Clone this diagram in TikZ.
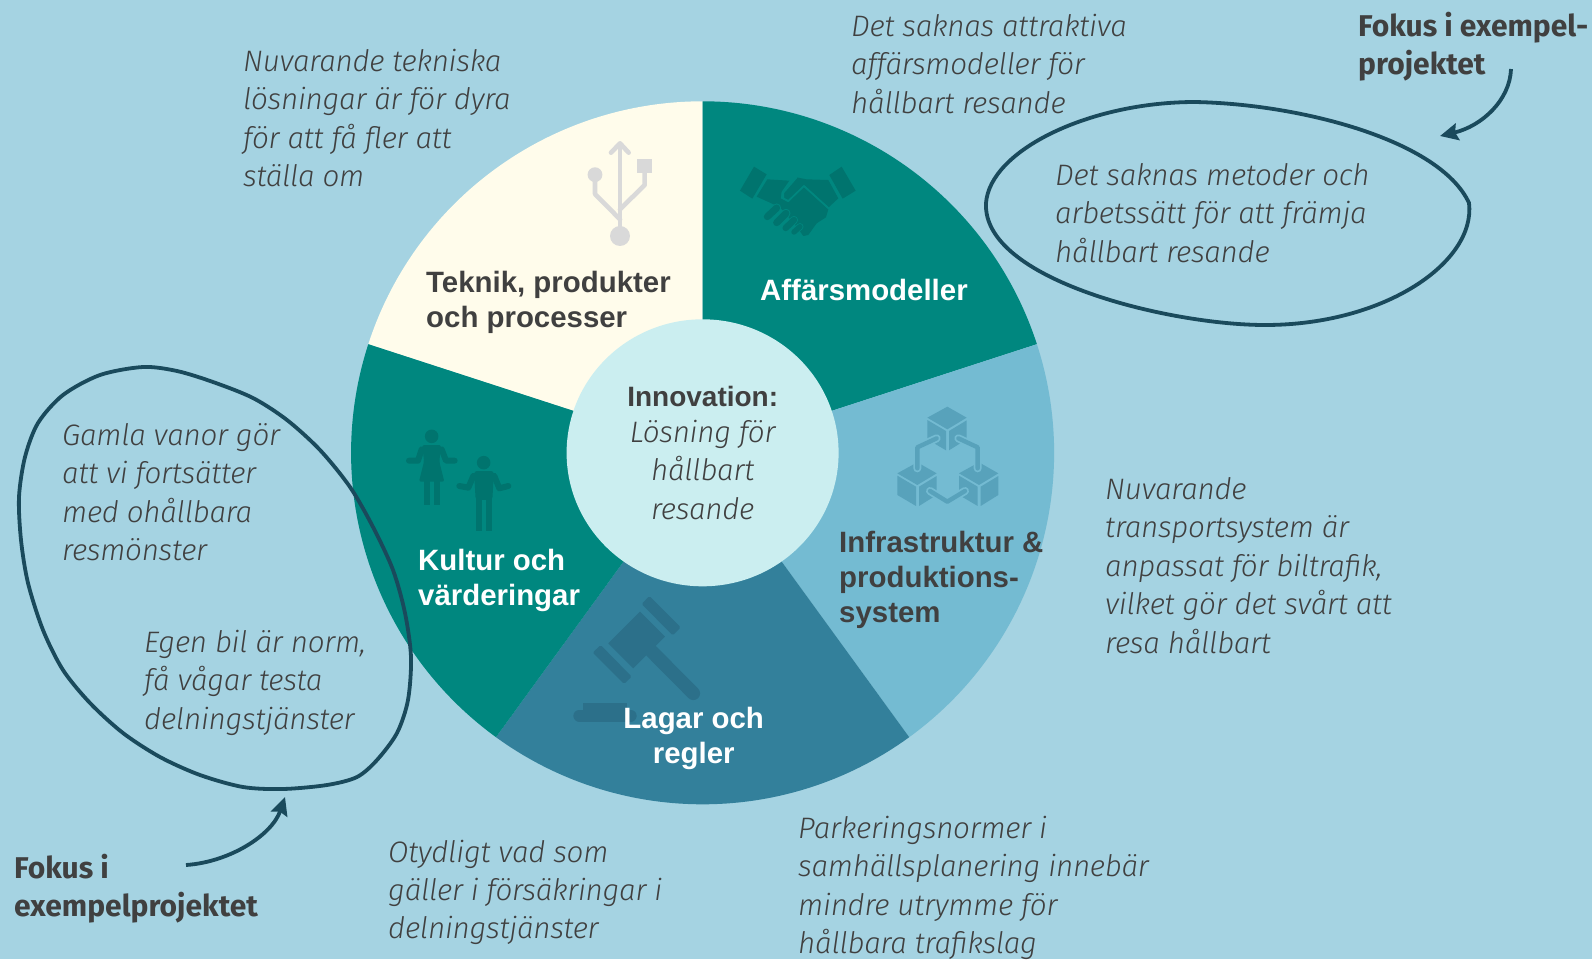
\documentclass[tikz,border=0pt]{standalone}
\usepackage{fontspec}
\setmainfont{Fira Sans}
\newfontfamily\notef{Fira Sans Light}[LetterSpace=-0.9]
\newfontfamily\lab{Liberation Sans}
\usetikzlibrary{arrows.meta}
\definecolor{bgc}{HTML}{A5D3E2}
\definecolor{teal1}{HTML}{00877F}
\definecolor{teal1d}{HTML}{00746E}
\definecolor{cream}{HTML}{FFFCEB}
\definecolor{lblue}{HTML}{74BBD2}
\definecolor{lblued}{HTML}{58A2BB}
\definecolor{dblue}{HTML}{33809B}
\definecolor{dblued}{HTML}{2C708A}
\definecolor{centerc}{HTML}{CBEEF0}
\definecolor{txt}{HTML}{404040}
\definecolor{ink}{HTML}{1A4A5C}
\definecolor{usbc}{HTML}{D9D9D9}
\newcommand{\Cn}[1]{\hbox to 0pt{\hss #1\hss}}
\tikzset{
 note/.style={font=\notef\itshape\fontsize{29.6}{38}\selectfont,text=txt,anchor=base west,inner sep=0pt},
 focus/.style={font=\bfseries\fontsize{30}{39}\selectfont,text=txt,anchor=base west,inner sep=0pt},
 seg/.style={font=\lab\bfseries\fontsize{29.4}{35}\selectfont,anchor=base west,inner sep=0pt},
 segc/.style={font=\lab\bfseries\fontsize{28}{35}\selectfont,anchor=base west,inner sep=0pt},
 loopline/.style={draw=ink,line width=3.8pt,line cap=round},
 arr/.style={draw=ink,line width=3.8pt,-{Stealth[length=18pt,width=17pt,inset=2.5pt]}},
 icon/.style={x=0.3333pt,y=-0.3333pt},
 rd/.style={line cap=round,line join=round}
}
\newcommand{\Lines}[1]{\vtop{\baselineskip=38.4pt\lineskiplimit=-100pt\relax #1}}
\newcommand{\SLines}[1]{\vtop{\baselineskip=35.3pt\lineskiplimit=-100pt\relax #1}}
\begin{document}
\begin{tikzpicture}[x=1pt,y=-1pt]
\fill[bgc] (0,0) rectangle (1592,959);
\useasboundingbox (0,0) rectangle (1592,959);
\coordinate (c) at (702.6,452.8);
\def\R{351.5pt}
\fill[cream] (c) -- ++(162:\R) arc[start angle=162,end angle=90,radius=\R] -- cycle;
\fill[teal1] (c) -- ++(90:\R) arc[start angle=90,end angle=18,radius=\R] -- cycle;
\fill[lblue] (c) -- ++(18:\R) arc[start angle=18,end angle=-54,radius=\R] -- cycle;
\fill[dblue] (c) -- ++(-54:\R) arc[start angle=-54,end angle=-126,radius=\R] -- cycle;
\fill[teal1] (c) -- ++(234:\R) arc[start angle=234,end angle=162,radius=\R] -- cycle;

% USB icon
\begin{scope}[shift={(540,120)},icon]
 \draw[usbc,line width=4.6pt,rd] (240,345) -- (240,75);
 \draw[usbc,line width=4.6pt,rd] (213,98) -- (240,70) -- (266,98);
 \fill[usbc] (240,348) circle[radius=10pt];
 \fill[usbc] (165,164) circle[radius=7.4pt];
 \draw[usbc,line width=4.6pt,rd] (165,164) -- (165,222) -- (240,298);
 \fill[usbc] (292,116) rectangle (336,160);
 \draw[usbc,line width=4.6pt,rd] (314,160) -- (314,195) -- (240,268);
\end{scope}

% Handshake icon
\begin{scope}[shift={(540,120)},icon]
 \fill[teal1d] (642,140) -- (680,163) -- (637,236) -- (600,212) -- cycle;
 \fill[teal1d] (905,140) -- (947,212) -- (908,236) -- (868,165) -- cycle;
 \fill[teal1d] (682,178) -- (748,182) -- (725,215) -- (722,235) -- (745,247) -- (790,200) -- (865,268) -- (858,292) -- (830,310) -- (805,345) -- (790,348) -- (770,320) -- (720,262) -- (690,248) -- (650,230) -- cycle;
 \fill[teal1d] (770,172) -- (800,178) -- (865,180) -- (895,235) -- (866,262) -- (792,195) -- (745,243) -- (730,235) -- (730,215) -- cycle;
 \draw[teal1,line width=1.7pt,rd] (770,172) -- (730,218) -- (730,235) -- (745,243) -- (792,198) -- (866,265);
 \draw[teal1,line width=9pt,rd] (682,290) -- (710,264);
 \draw[teal1d,line width=7pt,rd] (682,290) -- (710,264);
 \draw[teal1,line width=9pt,rd] (710,308) -- (738,280);
 \draw[teal1d,line width=7pt,rd] (710,308) -- (738,280);
 \draw[teal1,line width=8pt,rd] (737,324) -- (762,300);
 \draw[teal1d,line width=6.4pt,rd] (737,324) -- (762,300);
 \draw[teal1,line width=7pt,rd] (762,336) -- (780,320);
 \draw[teal1d,line width=5.4pt,rd] (762,336) -- (780,320);
\end{scope}

% People icon
\begin{scope}[shift={(380,400)},icon]
 \fill[teal1d] (155,109) circle[radius=6.8pt];
 \fill[teal1d,rounded corners=2pt] (127,135) -- (183,135) -- (178,185) -- (193,245) -- (117,245) -- (132,185) -- cycle;
 \draw[teal1d,line width=6pt,rd] (125,148) -- (114,182) -- (87,182);
 \draw[teal1d,line width=6pt,rd] (185,148) -- (198,182) -- (224,182);
 \fill[teal1d] (131,243) rectangle (151,315);
 \fill[teal1d] (161,243) rectangle (181,315);
 \fill[teal1d] (311,188) circle[radius=6.8pt];
 \fill[teal1d,rounded corners=3pt] (282,213) -- (342,213) -- (337,300) -- (287,300) -- cycle;
 \fill[teal1d] (287,295) rectangle (306,392);
 \fill[teal1d] (318,295) rectangle (337,392);
 \draw[teal1d,line width=6pt,rd] (280,228) -- (265,263) -- (238,258);
 \draw[teal1d,line width=6pt,rd] (343,228) -- (358,265) -- (385,258);
\end{scope}

% Cubes icon
\begin{scope}[shift={(870,390)},icon]
 \foreach \dx/\dy in {90/-167,0/0,185/0}{
  \begin{scope}[shift={(\dx,\dy)}]
   \fill[lblued] (142,217) -- (200,250) -- (142,285) -- (82,250) -- cycle;
   \fill[lblued] (82,257) -- (138,290) -- (138,348) -- (82,315) -- cycle;
   \fill[lblued] (147,290) -- (200,258) -- (200,315) -- (147,348) -- cycle;
  \end{scope}}
 \draw[lblue,line width=8pt,rd] (200,145) -- (142,172) -- (142,235);
 \draw[lblued,line width=4.4pt,rd] (200,145) -- (142,172) -- (142,235);
 \draw[lblue,line width=8pt,rd] (265,145) -- (323,172) -- (323,235);
 \draw[lblued,line width=4.4pt,rd] (265,145) -- (323,172) -- (323,235);
 \draw[lblue,line width=8pt,rd] (180,303) -- (232,335) -- (285,303);
 \draw[lblued,line width=4.4pt,rd] (180,303) -- (232,335) -- (285,303);
\end{scope}

% Gavel icon
\begin{scope}[shift={(560,580)},icon]
 \fill[dblued] (240,95) -- (315,170) -- (220,265) -- (145,190) -- cycle;
 \fill[dblued,rounded corners=1.5pt] (268,48) -- (362,142) -- (338,166) -- (245,72) -- cycle;
 \fill[dblued,rounded corners=1.5pt] (122,195) -- (215,290) -- (192,312) -- (98,218) -- cycle;
 \draw[dblued,line width=13.5pt,rd] (275,214) -- (400,340);
 \fill[dblued] (70,370) rectangle (200,392);
 \draw[dblued,line width=12pt,rd] (58,407) -- (212,407);
\end{scope}

\fill[centerc] (c) ellipse[x radius=136pt,y radius=133.5pt];

% Segment labels
\node[seg,text=txt] (tek) at (426,292) {\SLines{\hbox{Teknik, produkter}\hbox{och processer}}};
\node[seg,text=white] (aff) at (760,300) {\SLines{\hbox{Affärsmodeller}}};
\node[seg,text=txt] (inf) at (839,552) {\SLines{\hbox{Infrastruktur \&}\hbox{produktions-}\hbox{system}}};
\node[seg,text=white] (lag) at (693,728) {\SLines{\Cn{Lagar och}\Cn{regler}}};
\node[seg,text=white] (kul) at (418,570) {\SLines{\hbox{Kultur och}\hbox{värderingar}}};
\node[segc,text=txt] (inn) at (702,406) {\SLines{\Cn{Innovation:}}};
\node[note] (los) at (702,442.5) {\Lines{\Cn{Lösning för}\Cn{hållbart}\Cn{resande}}};

% Notes
\node[note] (n1) at (243,71.5) {\Lines{\hbox{Nuvarande tekniska}\hbox{lösningar är för dyra}\hbox{för att få fler att}\hbox{ställa om}}};
\node[note] (n2) at (851,36.5) {\Lines{\hbox{Det saknas attraktiva}\hbox{affärsmodeller för}\hbox{hållbart resande}}};
\node[note] (n3) at (1055,185.5) {\Lines{\hbox{Det saknas metoder och}\hbox{arbetssätt för att främja}\hbox{hållbart resande}}};
\node[note] (n4) at (1105,499.5) {\Lines{\hbox{Nuvarande}\hbox{transportsystem är}\hbox{anpassat för biltrafik,}\hbox{vilket gör det svårt att}\hbox{resa hållbart}}};
\node[note] (n5) at (798,838.5) {\Lines{\hbox{Parkeringsnormer i}\hbox{samhällsplanering innebär}\hbox{mindre utrymme för}\hbox{hållbara trafikslag}}};
\node[note] (n6) at (388,862) {\Lines{\hbox{Otydligt vad som}\hbox{gäller i försäkringar i}\hbox{delningstjänster}}};
\node[note] (n7) at (62,445.5) {\Lines{\hbox{Gamla vanor gör}\hbox{att vi fortsätter}\hbox{med ohållbara}\hbox{resmönster}}};
\node[note] (n8) at (144,652.5) {\Lines{\hbox{Egen bil är norm,}\hbox{få vågar testa}\hbox{delningstjänster}}};
\node[focus] (f1) at (1358,36) {\Lines{\hbox{Fokus i exempel-}\hbox{projektet}}};
\node[focus] (f2) at (14,878) {\Lines{\hbox{Fokus i}\hbox{exempelprojektet}}};

% Hand-drawn loops
\draw[loopline] (986,203) .. controls (990,150) and (1090,102) .. (1195,102)
  .. controls (1300,104) and (1440,140) .. (1469,203)
  .. controls (1476,262) and (1385,325) .. (1265,325)
  .. controls (1170,325) and (982,280) .. (986,203) -- cycle;
\draw[loopline] plot[smooth cycle,tension=0.5] coordinates {(143,367) (177,371) (213,382) (253,398) (287,420) (320,450) (350,487) (373,527) (393,570) (405,613) (411,657) (408,700) (397,733) (377,760) (357,777) (327,785) (283,789) (243,787) (200,775) (160,757) (123,733) (90,703) (63,670) (43,630) (28,583) (21,540) (19,497) (25,457) (38,423) (63,395) (100,375)};

% Arrows
\coordinate (a1s) at (1511,69);
\coordinate (a1e) at (1440,136);
\coordinate (a2s) at (186,865);
\coordinate (a2e) at (285,797);
\draw[arr] (a1s) .. controls (1510,100) and (1482,126) .. (a1e);
\draw[arr] (a2s) .. controls (230,862) and (272,835) .. (a2e);
\end{tikzpicture}
\end{document}
